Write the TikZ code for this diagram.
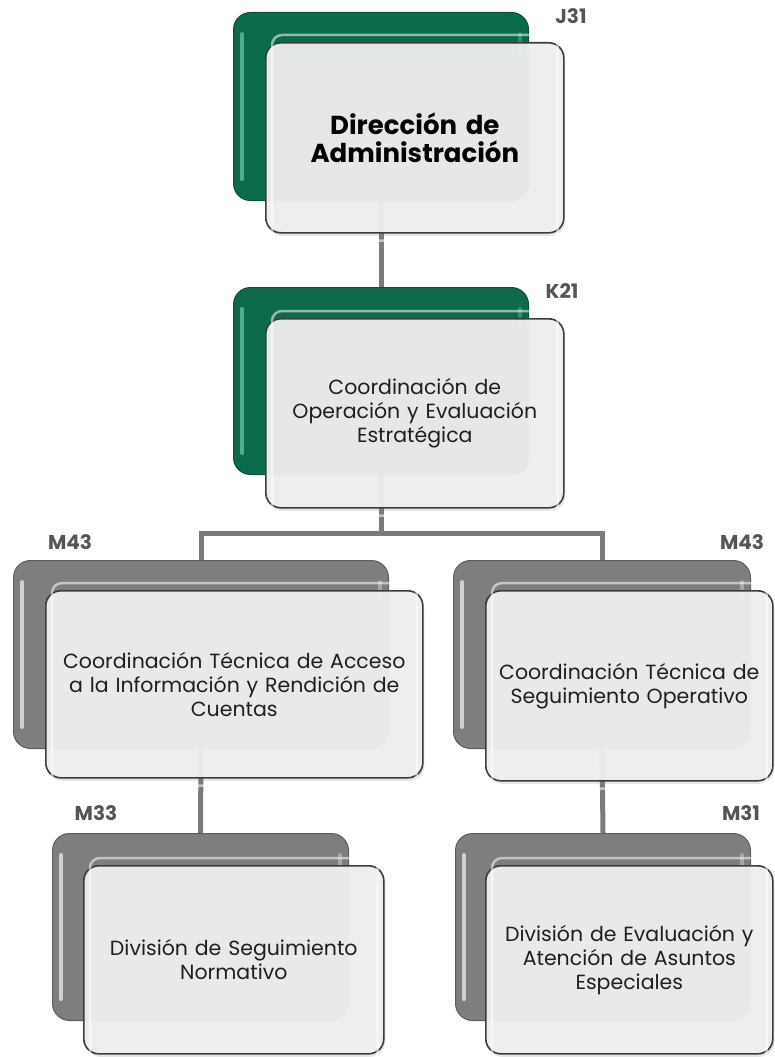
\documentclass[tikz,border=0pt]{standalone}
\usepackage{fontspec}
\setmainfont{Poppins}
\usetikzlibrary{shadows}
\definecolor{ggreen}{HTML}{0B6A4C}
\definecolor{ggreenedge}{HTML}{06523A}
\definecolor{ggreenhl}{HTML}{5CC0A0}
\definecolor{ggray}{HTML}{7E7E7E}
\definecolor{ggrayedge}{HTML}{5E5E5E}
\definecolor{ggrayhl}{HTML}{DADADA}
\definecolor{frontfill}{HTML}{EEEEEE}
\definecolor{frontedge}{HTML}{3C3C3C}
\definecolor{linkgray}{HTML}{7A7A7A}
\definecolor{codegray}{HTML}{555555}
\tikzset{
  backbox/.style={rounded corners=17pt, anchor=north west, inner sep=0pt, line width=1pt},
  backgreen/.style={backbox, fill=ggreen, draw=ggreenedge},
  backgray/.style={backbox, fill=ggray, draw=ggrayedge},
  hlgreen/.style={draw=ggreenhl, line width=4pt, line cap=round, opacity=0.8},
  hlgray/.style={draw=ggrayhl, line width=4pt, line cap=round, opacity=0.9},
  frontbox/.style={rounded corners=15pt, anchor=north west, inner sep=0pt,
    fill=frontfill, fill opacity=0.96, text opacity=1, draw=frontedge, line width=1.6pt,
    align=center, font=\fontsize{20.5}{24}\selectfont, text=black!88,
    drop shadow={shadow xshift=1.5pt, shadow yshift=-3pt, opacity=0.2}},
  innerhl/.style={draw=white, line width=2.5pt, opacity=0.55, rounded corners=10pt},
  link/.style={draw=linkgray, line width=5pt},
  code/.style={font=\fontsize{20}{22}\selectfont\bfseries, text=codegray, inner sep=0pt}
}
\begin{document}
\begin{tikzpicture}[x=1pt, y=-1pt]
\useasboundingbox (0,0) rectangle (774,1057);

% back boxes
\node[backgreen, minimum width=295pt, minimum height=188pt] (j31b) at (233,12) {};
\node[backgreen, minimum width=295pt, minimum height=187pt] (k21b) at (233,287) {};
\node[backgray, minimum width=375pt, minimum height=188pt] (m43lb) at (13,560) {};
\node[backgray, minimum width=297pt, minimum height=188pt] (m43rb) at (453,560) {};
\node[backgray, minimum width=296pt, minimum height=187pt] (m33b) at (52,833) {};
\node[backgray, minimum width=295pt, minimum height=187pt] (m31b) at (455,833) {};

% highlights on back boxes
\foreach \b/\s in {j31b/hlgreen, k21b/hlgreen, m43lb/hlgray, m43rb/hlgray, m33b/hlgray, m31b/hlgray}{
  \draw[\s] ([xshift=9pt,yshift=-22pt]\b.north west) -- ([xshift=9pt,yshift=22pt]\b.south west);
  \draw[\s, opacity=0.45] ([xshift=-9pt,yshift=-22pt]\b.north east) -- ([xshift=-9pt,yshift=-40pt]\b.north east);
}

% connectors
\coordinate (bar) at (0,533);
\draw[link] (j31b.south) -- (k21b.north);
\draw[link] (k21b.south) -- (k21b.south |- bar) -| (m43lb.north);
\draw[link] (k21b.south |- bar) -| (m43rb.north);
\draw[link] (m43lb.south) -- (m33b.north);
\draw[link] (m43rb.south) -- (m31b.north);

% front boxes
\node[frontbox, minimum width=298pt, minimum height=190pt, text width=284pt,
      font=\fontsize{26}{28.5}\selectfont\bfseries, text=black] (j31) at (265,42) {Dirección de\\Administración};
\node[frontbox, minimum width=298pt, minimum height=189pt, text width=288pt] (k21) at (265,318) {Coordinación de\\Operación y Evaluación\\Estratégica};
\node[frontbox, minimum width=377pt, minimum height=187pt, text width=370pt] (m43l) at (45,590) {Coordinación Técnica de Acceso\\a la Información y Rendición de\\Cuentas};
\node[frontbox, minimum width=287pt, minimum height=190pt, text width=284pt] (m43r) at (485,590) {Coordinación Técnica de\\Seguimiento Operativo};
\node[frontbox, minimum width=300pt, minimum height=188pt, text width=294pt] (m33) at (83,865) {División de Seguimiento\\Normativo};
\node[frontbox, minimum width=287pt, minimum height=188pt, text width=284pt] (m31) at (485,865) {División de Evaluación y\\Atención de Asuntos\\Especiales};

\foreach \f in {j31,k21,m43l,m43r,m33,m31}{
  \draw[innerhl] ([shift={(7pt,7pt)}]\f.north west) rectangle ([shift={(-7pt,-7pt)}]\f.south east);
}

% codes
\node[code] (cj31) at (571,16) {J31};
\node[code] (ck21) at (562,291) {K21};
\node[code] (cm43l) at (70,542) {M43};
\node[code] (cm43r) at (742,542) {M43};
\node[code] (cm33) at (96,813) {M33};
\node[code] (cm31) at (741,813) {M31};
\end{tikzpicture}
\end{document}
